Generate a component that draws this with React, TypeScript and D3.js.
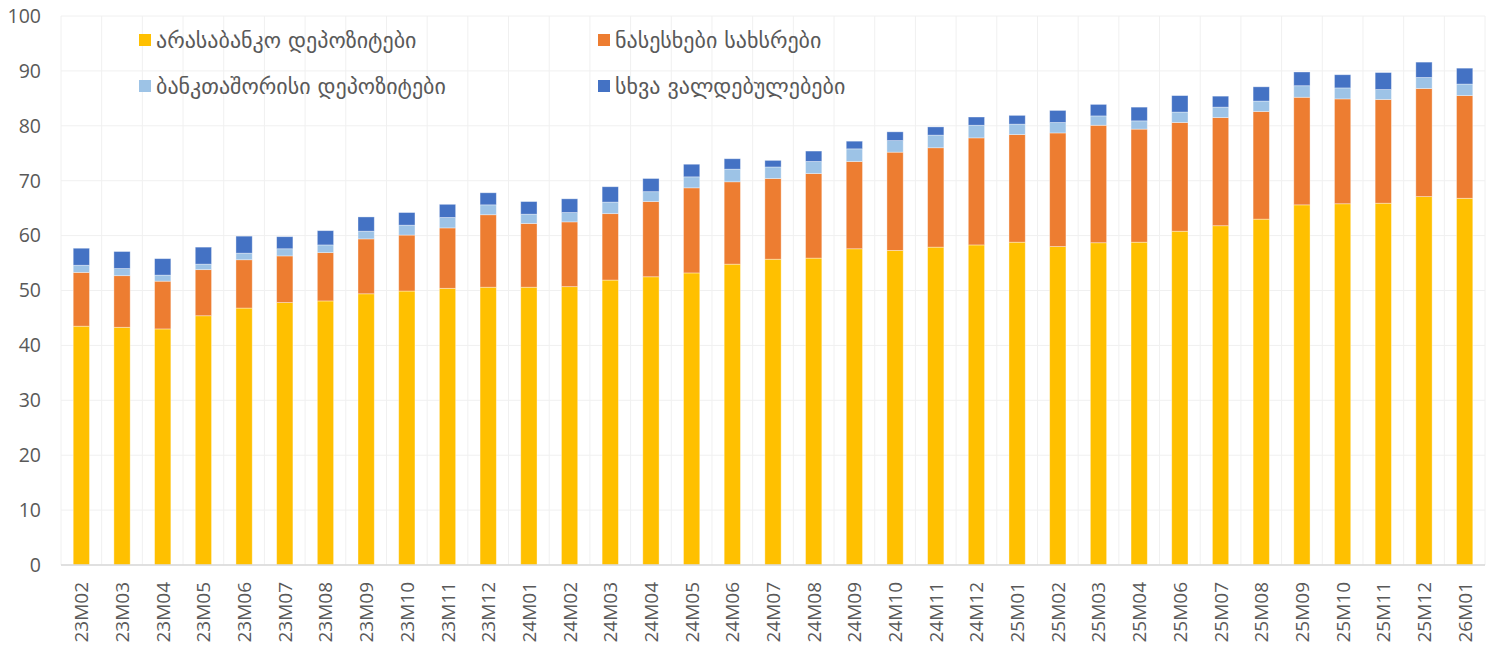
import React from "react";
import * as d3 from "d3";

const categories = ["23M02","23M03","23M04","23M05","23M06","23M07","23M08","23M09","23M10","23M11","23M12","24M01","24M02","24M03","24M04","24M05","24M06","24M07","24M08","24M09","24M10","24M11","24M12","25M01","25M02","25M03","25M04","25M06","25M07","25M08","25M09","25M10","25M11","25M12","26M01"];

const nonBankDeposits = [43.5,43.3,43.0,45.4,46.8,47.8,48.1,49.4,49.9,50.4,50.6,50.6,50.7,51.9,52.5,53.2,54.8,55.7,55.9,57.6,57.3,57.9,58.3,58.8,58.0,58.7,58.8,60.8,61.8,63.0,65.6,65.8,65.9,67.1,66.8];
const borrowedFunds = [9.8,9.4,8.7,8.4,8.8,8.5,8.8,10.0,10.2,11.0,13.2,11.6,11.8,12.1,13.7,15.5,15.0,14.7,15.4,15.9,17.9,18.1,19.5,19.6,20.7,21.4,20.6,19.8,19.7,19.6,19.6,19.1,18.9,19.7,18.7];
const interbankDeposits = [1.3,1.3,1.1,1.0,1.2,1.3,1.4,1.4,1.8,1.9,1.8,1.7,1.7,2.1,1.8,2.0,2.3,2.1,2.2,2.3,2.1,2.3,2.3,1.9,1.9,1.7,1.5,1.9,1.9,1.9,2.1,2.0,1.8,2.0,2.1];
const otherLiabilities = [3.1,3.1,3.0,3.1,3.1,2.2,2.6,2.6,2.3,2.4,2.2,2.3,2.5,2.8,2.4,2.3,1.9,1.2,1.9,1.4,1.6,1.5,1.5,1.6,2.2,2.1,2.5,3.0,2.0,2.6,2.5,2.4,3.1,2.8,2.9];

const seriesNames = ["არასაბანკო დეპოზიტები","ნასესხები სახსრები","ბანკთაშორისი დეპოზიტები","სხვა ვალდებულებები"];
const seriesColors = ["#FFC000","#ED7D31","#9DC3E6","#4472C4"];
const yTicks = [0,10,20,30,40,50,60,70,80,90,100];

export default function App() {
  const W = 1495, H = 650;
  const left = 61, right = 1485, top = 16, bottom = 565;
  const x = d3.scaleBand<string>().domain(categories).range([left, right]).paddingInner(0.6).paddingOuter(0.3);
  const xb = d3.scaleBand<string>().domain(categories).range([left, right]);
  const y = d3.scaleLinear().domain([0, 100]).range([bottom, top]);

  const rows = categories.map((c, i) => ({
    cat: c,
    s0: nonBankDeposits[i],
    s1: borrowedFunds[i],
    s2: interbankDeposits[i],
    s3: otherLiabilities[i],
  }));
  const stack = d3.stack<any>().keys(["s0","s1","s2","s3"]);
  const layers = stack(rows);

  const font = "'Open Sans', 'DejaVu Sans', sans-serif";
  const legendFont = "'DejaVu Sans', sans-serif";
  const legendPos = [
    { x: 139, y: 34 },
    { x: 598, y: 34 },
    { x: 139, y: 80 },
    { x: 598, y: 80 },
  ];

  return (
    <svg width={W} height={H} style={{ position: "absolute", left: 0, top: 0, background: "#fff" }}>
      {yTicks.map((t) => (
        <line key={"h" + t} x1={left} x2={right} y1={y(t)} y2={y(t)} stroke="#f0f0f0" strokeWidth={1} />
      ))}
      {categories.map((c) => (
        <line key={"v" + c} x1={xb(c)!} x2={xb(c)!} y1={top} y2={bottom} stroke="#f0f0f0" strokeWidth={1} />
      ))}
      <line x1={right} x2={right} y1={top} y2={bottom} stroke="#f0f0f0" strokeWidth={1} />
      {layers.map((layer, li) => (
        <g key={"l" + li} fill={seriesColors[li]}>
          {layer.map((d: any, i: number) => (
            <rect key={i} x={x(categories[i])!} width={x.bandwidth()} y={y(d[1])} height={y(d[0]) - y(d[1])}
              stroke="#ffffff" strokeOpacity={0.45} strokeWidth={0.8} />
          ))}
        </g>
      ))}
      <line x1={left} x2={right} y1={bottom} y2={bottom} stroke="#d9d9d9" strokeWidth={1.5} />
      {yTicks.map((t) => (
        <text key={"yt" + t} x={41} y={y(t)} dy="0.35em" textAnchor="end" fontFamily={font} fontSize={19.5} fill="#595959">{t}</text>
      ))}
      {categories.map((c) => {
        const cx = x(c)! + x.bandwidth() / 2;
        return (
          <text key={"xt" + c} transform={`translate(${cx + 7},${582}) rotate(-90)`} textAnchor="end" fontFamily={font} fontSize={19} fill="#595959">{c}</text>
        );
      })}
      {seriesNames.map((n, i) => (
        <g key={"lg" + i}>
          <rect x={legendPos[i].x} y={legendPos[i].y} width={12} height={12} fill={seriesColors[i]} />
          <text x={legendPos[i].x + 17} y={legendPos[i].y + 14} fontFamily={legendFont} fontSize={22} fill="#595959">{n}</text>
        </g>
      ))}
    </svg>
  );
}
